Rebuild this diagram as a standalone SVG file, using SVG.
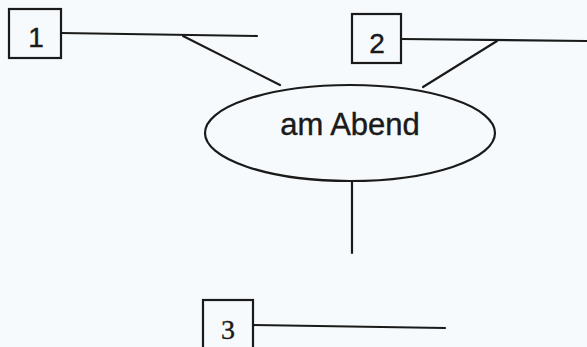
<svg xmlns="http://www.w3.org/2000/svg" width="587" height="347" viewBox="0 0 587 347">
<style>
.box{fill:none;stroke:#1a1a1a;stroke-width:2.2}
.ln{fill:none;stroke:#1a1a1a;stroke-width:2.2;stroke-linecap:round}
.num{font-family:"Liberation Sans",Arial,sans-serif;font-size:28px;fill:#1a1a1a;stroke:#1a1a1a;stroke-width:0.4;text-anchor:middle}
.lbl{font-family:"Liberation Sans",Arial,sans-serif;font-size:31px;fill:#1a1a1a;stroke:#1a1a1a;stroke-width:0.4;text-anchor:middle}
</style>
<rect width="587" height="347" fill="#f7fafc"/>
<g id="connectors">
<line class="ln" x1="61" y1="33" x2="257" y2="36"/>
<line class="ln" x1="183" y1="36" x2="280" y2="85"/>
<line class="ln" x1="401" y1="39" x2="587" y2="41"/>
<line class="ln" x1="497" y1="41" x2="423" y2="87"/>
<line class="ln" x1="352" y1="182" x2="352" y2="253"/>
<line class="ln" x1="253" y1="325" x2="445" y2="328"/>
</g>
<g id="node1">
<rect class="box" x="9" y="9" width="52" height="49"/>
<text class="num" x="36" y="47">1</text>
</g>
<g id="node2">
<rect class="box" x="352" y="14" width="49" height="49"/>
<text class="num" x="377" y="53">2</text>
</g>
<g id="center">
<ellipse class="box" cx="350" cy="133" rx="145" ry="48"/>
<text class="lbl" x="350" y="135">am Abend</text>
</g>
<g id="node3">
<rect class="box" x="203" y="300" width="50" height="50"/>
<text class="num" x="228" y="339" style="font-family:'Liberation Serif','Times New Roman',serif;font-size:28px">3</text>
</g>
</svg>
